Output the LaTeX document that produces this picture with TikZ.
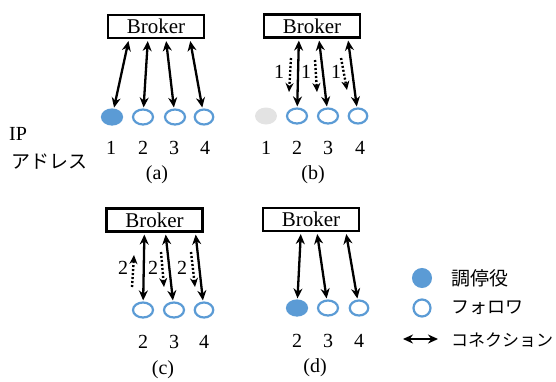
\documentclass[tikz,border=0pt]{standalone}
\usepackage{fontspec}
\setmainfont{Liberation Serif}
\newfontfamily\jpfont{Noto Sans CJK JP}
\usetikzlibrary{shapes.geometric,arrows.meta}
\definecolor{nblue}{HTML}{5B9BD5}
\definecolor{ngray}{HTML}{E3E3E3}
\begin{document}
\begin{tikzpicture}[x=1pt,y=-1pt,
  broker/.style={draw,line width=2.2pt,minimum width=96pt,minimum height=23pt,inner sep=0pt,font=\fontsize{21}{21}\selectfont},
  follower/.style={ellipse,draw=nblue,line width=2.2pt,minimum width=20pt,minimum height=15pt,inner sep=0pt},
  mediator/.style={follower,fill=nblue},
  gone/.style={ellipse,fill=ngray,minimum width=22pt,minimum height=17pt,inner sep=0pt},
  conn/.style={line width=2.3pt,{Stealth[length=10pt,width=9pt]}-{Stealth[length=10pt,width=9pt]},shorten <=2pt,shorten >=1pt},
  msg/.style={line width=2.4pt,dash pattern=on 2pt off 2pt,-{Stealth[length=9pt,width=8pt]}},
  lbl/.style={font=\fontsize{20}{20}\selectfont,inner sep=0pt},
  jp/.style={font=\jpfont\fontsize{17}{17}\selectfont,inner sep=0pt,anchor=west}
]
\path[use as bounding box] (0,0) rectangle (556,381);

% ---------- (a)
\node[broker] (ba) at (156,26.5) {Broker};
\node[mediator] (a1) at (112,117) {};
\node[follower] (a2) at (143,117) {};
\node[follower] (a3) at (175,117) {};
\node[follower,minimum width=18.5pt] (a4) at (204,117) {};
\node[lbl] (na1) at (111,148) {1};
\node[lbl] (na2) at (143,148) {2};
\node[lbl] (na3) at (174,148) {3};
\node[lbl] (na4) at (205,148) {4};
\node[lbl] (capa) at (157,175) {(a)};
\draw[conn] ([xshift=22pt]ba.south west) -- (a1);
\draw[conn] ([xshift=41pt]ba.south west) -- (a2);
\draw[conn] ([xshift=59pt]ba.south west) -- (a3);
\draw[conn] ([xshift=83pt]ba.south west) -- (a4);

% IP address label
\node[lbl,anchor=west] (ip) at (9,134) {IP};
\node[font=\jpfont\fontsize{19}{19}\selectfont,inner sep=0pt,anchor=west] (addr) at (11,162) {アドレス};

% ---------- (b)
\node[broker] (bb) at (312,26) {Broker};
\node[gone] (b1) at (266,116) {};
\node[follower] (b2) at (297,116) {};
\node[follower] (b3) at (328,116) {};
\node[follower,minimum width=18.5pt] (b4) at (358,116) {};
\node[lbl] (nb1) at (266,148) {1};
\node[lbl] (nb2) at (297,148) {2};
\node[lbl] (nb3) at (328,148) {3};
\node[lbl] (nb4) at (360,148) {4};
\node[lbl] (capb) at (313,175) {(b)};
\draw[conn] ([xshift=36pt]bb.south west) -- (b2);
\draw[conn] ([xshift=56pt]bb.south west) -- (b3);
\draw[conn] ([xshift=85pt]bb.south west) -- (b4);
\coordinate (m1s) at (291,58); \coordinate (m1e) at (289,92);
\coordinate (m2s) at (315,60); \coordinate (m2e) at (317,92);
\coordinate (m3s) at (341,58); \coordinate (m3e) at (347,90);
\draw[msg] (m1s) -- (m1e);
\draw[msg] (m2s) -- (m2e);
\draw[msg] (m3s) -- (m3e);
\node[lbl] (l1a) at (279,72) {1};
\node[lbl] (l1b) at (306,72) {1};
\node[lbl] (l1c) at (336,72) {1};

% ---------- (c)
\node[broker] (bc) at (154.5,220) {Broker};
\node[follower] (c2) at (143,310) {};
\node[follower] (c3) at (174,310) {};
\node[follower,minimum width=18.5pt] (c4) at (204,310) {};
\node[lbl] (nc2) at (143,342) {2};
\node[lbl] (nc3) at (174,342) {3};
\node[lbl] (nc4) at (204,342) {4};
\node[lbl] (capc) at (163,370) {(c)};
\draw[conn] ([xshift=39pt]bc.south west) -- (c2);
\draw[conn] ([xshift=60pt]bc.south west) -- (c3);
\draw[conn] ([xshift=90pt]bc.south west) -- (c4);
\coordinate (n1s) at (132,287); \coordinate (n1e) at (134,255);
\coordinate (n2s) at (161,252); \coordinate (n2e) at (164,287);
\coordinate (n3s) at (191,252); \coordinate (n3e) at (195,287);
\draw[msg] (n1s) -- (n1e);
\draw[msg] (n2s) -- (n2e);
\draw[msg] (n3s) -- (n3e);
\node[lbl] (l2a) at (123,268) {2};
\node[lbl] (l2b) at (153,268) {2};
\node[lbl] (l2c) at (182,268) {2};

% ---------- (d)
\node[broker] (bd) at (311,219.5) {Broker};
\node[mediator] (d2) at (297,308) {};
\node[follower] (d3) at (328,308) {};
\node[follower,minimum width=18.5pt] (d4) at (359,308) {};
\node[lbl] (nd2) at (297,341) {2};
\node[lbl] (nd3) at (328,341) {3};
\node[lbl] (nd4) at (359,341) {4};
\node[lbl] (capd) at (315,368) {(d)};
\draw[conn] ([xshift=39pt]bd.south west) -- (d2);
\draw[conn] ([xshift=55pt]bd.south west) -- (d3);
\draw[conn] ([xshift=84pt]bd.south west) -- (d4);

% ---------- legend
\node[circle,fill=nblue,draw=nblue,line width=2pt,minimum size=18pt,inner sep=0pt] (lgm) at (422,278) {};
\node[jp,font=\jpfont\fontsize{19}{19}\selectfont] (lgmt) at (451,278) {調停役};
\node[circle,draw=nblue,line width=2.2pt,minimum size=17pt,inner sep=0pt] (lgf) at (422,308) {};
\node[jp,font=\jpfont\fontsize{18}{18}\selectfont] (lgft) at (451,308) {フォロワ};
\coordinate (lgcs) at (403,339); \coordinate (lgce) at (438,339);
\draw[line width=2.3pt,{Stealth[length=10pt,width=9pt]}-{Stealth[length=10pt,width=9pt]}] (lgcs) -- (lgce);
\node[jp] (lgct) at (451,340) {コネクション};
\end{tikzpicture}
\end{document}
